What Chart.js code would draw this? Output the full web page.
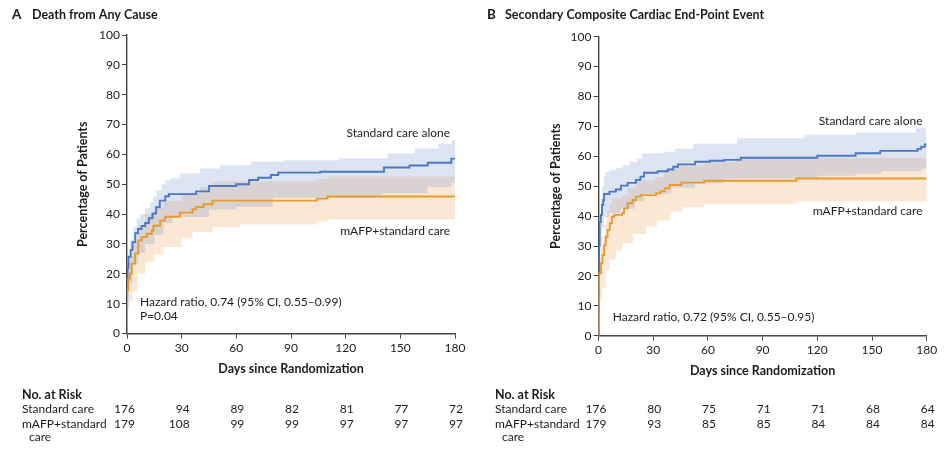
<!DOCTYPE html>
<html>
<head>
<meta charset="utf-8">
<script src="https://cdn.jsdelivr.net/npm/chart.js@4.4.1/dist/chart.umd.min.js"></script>
<style>
  html, body { margin: 0; padding: 0; background: #fff; }
  #wrap { position: relative; width: 950px; height: 450px; overflow: hidden; }
  .panel { position: absolute; top: 0; width: 475px; height: 450px; }
</style>
</head>
<body>
<div id="wrap">
  <div class="panel" style="left:0"><canvas id="chartA" width="475" height="450"></canvas></div>
  <div class="panel" style="left:475px"><canvas id="chartB" width="475" height="450"></canvas></div>
</div>
<script>
// ── Data: panel A, death from any cause ───────
const stdA_days = [0, 0, 0.3, 0.8, 2, 3, 4.5, 6, 8, 10, 12, 14, 16, 18, 21, 23, 38, 45, 60, 67, 72, 79, 83, 106, 141, 155, 165, 178, 180];
const stdA_pct  = [0, 15, 22, 25.7, 28, 30.6, 33.6, 35, 36, 37, 38.6, 40.2, 42.3, 44.5, 46, 46.7, 47.6, 49.4, 50, 51.4, 52.2, 53.1, 53.9, 54.2, 55.6, 56.3, 57.2, 58.6, 58.6];
const orgA_days = [0, 0, 0.7, 1.7, 2.6, 4.4, 6.2, 8, 10.8, 13.6, 14.5, 18.2, 20.9, 29, 36, 38, 42, 47, 104, 110, 180];
const orgA_pct  = [0, 14.5, 18.4, 20, 23.4, 26.8, 31.2, 32.3, 33.4, 34.4, 36.1, 37.8, 39.1, 40.5, 41.6, 42.4, 43.3, 44.5, 45.2, 45.9, 45.9];

const stdA_hi_days = [0, 0, 1.7, 3.5, 5.3, 7.2, 9.9, 12.7, 14.5, 16.3, 19.1, 20.9, 24, 29, 40, 51, 68, 86, 116, 143, 158, 171, 178, 180];
const stdA_hi_pct  = [0, 24, 31.2, 35.7, 38.6, 40, 42, 44, 46, 48, 50, 51.3, 52, 53.6, 55.3, 56.4, 57.5, 58, 58.6, 60.3, 62, 63.6, 64.7, 64.7];
const stdA_lo_days = [0, 0, 1, 3, 6, 10, 15, 20, 25, 45, 60, 80, 140, 165, 178, 180];
const stdA_lo_pct  = [0, 9, 17, 23, 27, 30, 33, 37, 39, 41.5, 42.5, 45.5, 47, 49, 50.5, 50.5];
const orgA_hi_days = [0, 0, 1, 3, 6, 10, 15, 20, 30, 40, 47, 104, 110, 180];
const orgA_hi_pct  = [0, 22, 26, 31, 36, 40, 42, 44.5, 47, 49, 51, 51.8, 52.6, 52.6];
const orgA_lo_days = [0, 0, 1, 3, 6, 10, 15, 20, 30, 36, 47, 62, 104, 110, 180];
const orgA_lo_pct  = [0, 8, 11, 14, 20, 24, 26.5, 29, 32, 34, 35.7, 36.5, 37.5, 38.3, 38.3];

// ── Data: panel B, composite cardiac end point ─
const stdB_days = [0, 0, 0.3, 0.6, 1.3, 1.9, 2.6, 3.1, 6, 9.5, 12.3, 16, 20.5, 23, 25, 32.4, 38, 41, 43.6, 53, 61, 69, 78, 120, 141, 154.5, 175, 177, 179, 180];
const stdB_pct  = [0, 21, 30, 38, 40.4, 43.7, 45.4, 47.4, 48.2, 48.9, 50.2, 51.1, 52.1, 53.2, 54.5, 55, 55.6, 56.5, 57.3, 58.2, 58.5, 58.8, 59.5, 60.2, 61, 61.8, 62.5, 63.2, 64, 64];
const orgB_days = [0, 0, 1.3, 2.2, 3.1, 4, 5, 6.2, 7.3, 8.6, 13, 14, 16, 18.7, 20.5, 23, 31.5, 34, 36.3, 39, 45.4, 58, 108.5, 180];
const orgB_pct  = [0, 20.9, 24.2, 27, 30.3, 33.1, 35.4, 37.6, 39.8, 40.4, 41, 42.6, 44.3, 45.4, 46.5, 47, 47.6, 48.3, 49.3, 50.4, 51.2, 51.8, 52.6, 52.6];

const stdB_hi_days = [0, 0, 0.3, 1.3, 2, 3, 4, 6, 9.5, 13, 17, 21, 24, 36, 42, 52, 76, 113, 141, 174, 180];
const stdB_hi_pct  = [0, 30, 40, 46, 50, 53.2, 54.8, 55.3, 56, 57, 58.2, 59.3, 61, 61.5, 62.5, 64.3, 66, 67.2, 68, 69.4, 69.4];
const stdB_lo_days = [0, 0, 0.3, 1, 2, 3, 6, 12, 20, 25, 40, 53, 69, 120, 141, 155, 177, 180];
const stdB_lo_pct  = [0, 14, 22, 30, 36, 39.5, 41, 42.5, 45, 47.5, 49.5, 51, 52.5, 53.5, 54.2, 55, 55.8, 55.8];
const orgB_hi_days = [0, 0, 1.3, 2.2, 3.1, 4, 5, 6.2, 7.3, 13, 16, 20.5, 31, 36, 39, 45, 58, 75, 180];
const orgB_hi_pct  = [0, 26, 30, 33, 37, 40, 42, 44, 46, 47, 49.5, 52, 53, 55, 56.3, 57, 58, 59.4, 59.4];
const orgB_lo_days = [0, 0, 1, 2, 4, 6, 9.5, 13, 19, 26, 32, 39, 46, 58, 108, 180];
const orgB_lo_pct  = [0, 10, 12, 16, 22, 25.5, 28.5, 31, 34, 36.5, 38.5, 41.5, 43, 44, 45, 45];

// ── Number at risk ────────────────────────────
const riskDays    = [0, 30, 60, 90, 120, 150, 180];
const riskStdA    = [176, 94, 89, 82, 81, 77, 72];
const riskMafpA   = [179, 108, 99, 99, 97, 97, 97];
const riskStdB    = [176, 80, 75, 71, 71, 68, 64];
const riskMafpB   = [179, 93, 85, 85, 84, 84, 84];

// ── Styles ────────────────────────────────────
const FONT = 'Lato, "Open Sans", sans-serif';
const TEXT = '#1e1b1c';
const AXIS = '#444';
const BLUE = '#4a78c2';
const ORANGE = '#e99a2c';
const BLUE_BAND = 'rgba(78, 121, 200, 0.2)';
const ORANGE_BAND = 'rgba(238, 150, 60, 0.22)';

Chart.defaults.font.family = FONT;
Chart.defaults.font.size = 12;
Chart.defaults.color = TEXT;

const pts = (days, pct) => days.map((d, i) => ({ x: d, y: pct[i] }));

function lineSet(data, color) {
  return { data, borderColor: color, borderWidth: 1.9, stepped: 'before', pointRadius: 0, fill: false };
}
function bandSet(data, color, fill) {
  return { data, borderWidth: 0, borderColor: 'rgba(0,0,0,0)', backgroundColor: color, stepped: 'before', pointRadius: 0, fill };
}

// ── Annotations + risk table ──────────────────
function panelText(p) {
  return {
    id: 'panelText',
    afterDraw(chart) {
      const { ctx, scales: { x, y } } = chart;
      ctx.save();
      ctx.fillStyle = TEXT;
      ctx.textBaseline = 'middle';

      ctx.textAlign = 'left';
      ctx.font = 'bold 13.5px ' + FONT;
      ctx.fillText(p.letter, 12, 15);
      ctx.font = 'bold 12.5px ' + FONT;
      ctx.fillText(p.title, p.titleX, 15);

      ctx.font = '12px ' + FONT;
      ctx.textAlign = 'right';
      p.curveLabels.forEach(l => ctx.fillText(l.text, x.getPixelForValue(l.day), y.getPixelForValue(l.pct)));
      ctx.textAlign = 'left';
      p.notes.forEach(l => ctx.fillText(l.text, x.getPixelForValue(l.day), y.getPixelForValue(l.pct)));

      ctx.font = 'bold 12.5px ' + FONT;
      ctx.fillText('No. at Risk', p.rowX, 395);
      ctx.font = '12px ' + FONT;
      ctx.fillText('Standard care', p.rowX, 409.5);
      ctx.fillText('mAFP+standard', p.rowX, 424);
      ctx.fillText('care', p.rowX + 7, 437.5);

      ctx.textAlign = 'right';
      riskDays.forEach((d, i) => {
        const px = x.getPixelForValue(d) + 8;
        ctx.fillText(String(p.risk[0][i]), px, 409.5);
        ctx.fillText(String(p.risk[1][i]), px, 424);
      });
      ctx.restore();
    }
  };
}

function makeChart(id, p) {
  new Chart(document.getElementById(id), {
    type: 'line',
    data: {
      datasets: [
        lineSet(p.org, ORANGE),
        lineSet(p.std, BLUE),
        bandSet(p.stdHi, BLUE_BAND, '+1'),
        bandSet(p.stdLo, BLUE_BAND, false),
        bandSet(p.orgHi, ORANGE_BAND, '+1'),
        bandSet(p.orgLo, ORANGE_BAND, false)
      ]
    },
    options: {
      responsive: false,
      animation: false,
      devicePixelRatio: 1,
      layout: { padding: p.padding },
      plugins: {
        legend: { display: false },
        tooltip: { enabled: false },
        filler: { drawTime: 'beforeDatasetsDraw' }
      },
      scales: {
        x: {
          type: 'linear', min: 0, max: 180,
          ticks: { stepSize: 30, padding: 2, color: TEXT, font: { size: 12 } },
          grid: { drawOnChartArea: false, drawTicks: true, tickLength: 5, color: AXIS, lineWidth: 1 },
          border: { display: true, color: AXIS, width: 1.4 },
          title: { display: true, text: 'Days since Randomization', color: TEXT,
                   font: { size: 12.5, weight: 'bold' }, padding: { top: 0, bottom: 4 } },
          afterFit(s) { s.height = 47; }
        },
        y: {
          min: 0, max: 100,
          ticks: { stepSize: 10, padding: 2, color: TEXT, font: { size: 12 } },
          grid: { drawOnChartArea: false, drawTicks: true, tickLength: 5, color: AXIS, lineWidth: 1 },
          border: { display: true, color: AXIS, width: 1.4 },
          title: { display: true, text: 'Percentage of Patients', color: TEXT,
                   font: { size: 12.5, weight: 'bold' }, padding: { top: 0, bottom: 0 } },
          afterFit(s) { s.width = p.yWidth; }
        }
      }
    },
    plugins: [panelText(p)]
  });
}

makeChart('chartA', {
  letter: 'A', title: 'Death from Any Cause', titleX: 32, rowX: 22,
  std: pts(stdA_days, stdA_pct), org: pts(orgA_days, orgA_pct),
  stdHi: pts(stdA_hi_days, stdA_hi_pct), stdLo: pts(stdA_lo_days, stdA_lo_pct),
  orgHi: pts(orgA_hi_days, orgA_hi_pct), orgLo: pts(orgA_lo_days, orgA_lo_pct),
  risk: [riskStdA, riskMafpA],
  padding: { left: 75, top: 35, right: 20, bottom: 69.5 }, yWidth: 52,
  curveLabels: [
    { text: 'Standard care alone', day: 177.3, pct: 67.2 },
    { text: 'mAFP+standard care', day: 177.3, pct: 34.3 }
  ],
  notes: [
    { text: 'Hazard ratio, 0.74 (95% CI, 0.55\u20130.99)', day: 7.1, pct: 10.6 },
    { text: 'P=0.04', day: 7.1, pct: 5.9 }
  ]
});

makeChart('chartB', {
  letter: 'B', title: 'Secondary Composite Cardiac End-Point Event', titleX: 30, rowX: 20,
  std: pts(stdB_days, stdB_pct), org: pts(orgB_days, orgB_pct),
  stdHi: pts(stdB_hi_days, stdB_hi_pct), stdLo: pts(stdB_lo_days, stdB_lo_pct),
  orgHi: pts(orgB_hi_days, orgB_hi_pct), orgLo: pts(orgB_lo_days, orgB_lo_pct),
  risk: [riskStdB, riskMafpB],
  padding: { left: 73, top: 36.7, right: 23.3, bottom: 67.3 }, yWidth: 50.5,
  curveLabels: [
    { text: 'Standard care alone', day: 177.7, pct: 71.6 },
    { text: 'mAFP+standard care', day: 177.7, pct: 41.5 }
  ],
  notes: [
    { text: 'Hazard ratio, 0.72 (95% CI, 0.55\u20130.95)', day: 7.8, pct: 6.1 }
  ]
});
</script>
</body>
</html>
